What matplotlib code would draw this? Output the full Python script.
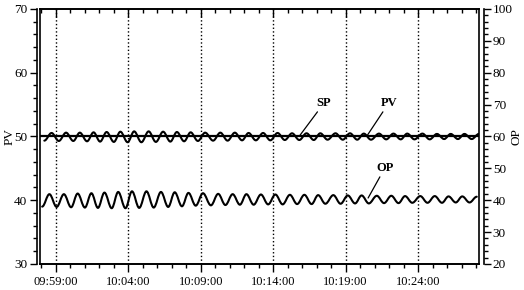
import numpy as np
import pandas as pd
import matplotlib
matplotlib.use("Agg")
import matplotlib.pyplot as plt
import matplotlib.dates as mdates
from matplotlib.path import Path
from matplotlib.patches import PathPatch
from matplotlib.ticker import MultipleLocator

plt.rcParams['font.family'] = ['Liberation Serif', 'DejaVu Serif']

# times of the oscillation extrema, minutes after 09:59:00
trough_min = [-0.95, 0.05, 1.05, 2.0, 2.9, 3.85, 4.8, 5.75, 6.75, 7.75, 8.7,
              9.65, 10.7, 11.7, 12.7, 13.65, 14.65, 15.65, 16.65, 17.65, 18.6,
              19.65, 20.65, 21.6, 22.65, 23.65, 24.6, 25.65, 26.65, 27.6, 28.55]
peak_min = [-0.45, 0.55, 1.5, 2.45, 3.35, 4.3, 5.25, 6.25, 7.25, 8.2, 9.15,
            10.15, 11.2, 12.2, 13.15, 14.15, 15.15, 16.15, 17.15, 18.1, 19.15,
            20.15, 21.1, 22.15, 23.15, 24.1, 25.15, 26.15, 27.1, 28.05, 29.05]
pv_lag = 0.15  # PV extrema lag OP slightly

# OP (right axis) extrema
op_troughs = [38.0, 37.9, 37.8, 37.7, 37.6, 37.5, 37.5, 37.6, 37.7, 37.9, 38.1,
              38.3, 38.4, 38.5, 38.6, 38.6, 38.7, 38.7, 38.8, 38.8, 38.9,
              38.9, 39.0, 39.0, 39.1, 39.1, 39.2, 39.2, 39.2, 39.3, 39.3]
op_peaks = [41.9, 41.9, 42.1, 42.2, 42.4, 42.6, 42.8, 42.8, 42.6, 42.5, 42.3,
            42.2, 42.0, 41.9, 41.9, 41.8, 41.8, 41.7, 41.7, 41.6, 41.6,
            41.5, 41.5, 41.4, 41.4, 41.3, 41.3, 41.3, 41.2, 41.2, 41.1]

# PV (left axis) extrema
pv_troughs = [49.35, 49.3, 49.3, 49.25, 49.2, 49.15, 49.1, 49.1, 49.15, 49.2, 49.25,
              49.3, 49.35, 49.35, 49.4, 49.4, 49.4, 49.45, 49.45, 49.45, 49.5,
              49.5, 49.5, 49.5, 49.55, 49.55, 49.55, 49.55, 49.6, 49.6, 49.6]
pv_peaks = [50.55, 50.6, 50.6, 50.65, 50.7, 50.75, 50.8, 50.8, 50.75, 50.7, 50.65,
            50.6, 50.6, 50.6, 50.55, 50.55, 50.55, 50.5, 50.5, 50.5, 50.5,
            50.5, 50.45, 50.45, 50.45, 50.45, 50.45, 50.4, 50.4, 50.4, 50.4]

sp_value = 50.0
sp_span_min = [-1.0, 29.2]

base = pd.Timestamp('2020-01-01 09:59:00')


def to_num(minutes):
    return mdates.date2num(base + pd.to_timedelta(np.asarray(minutes), unit='min'))


def wave_patch(t, v, transform, lw=1.5):
    # smooth curve through extrema: cubic Bezier with flat tangents at each one
    verts = [(t[0], v[0])]
    codes = [Path.MOVETO]
    for i in range(len(t) - 1):
        dt = t[i + 1] - t[i]
        verts += [(t[i] + 0.3642 * dt, v[i]), (t[i + 1] - 0.3642 * dt, v[i + 1]),
                  (t[i + 1], v[i + 1])]
        codes += [Path.CURVE4] * 3
    return PathPatch(Path(verts, codes), fill=False, lw=lw, color='black',
                     transform=transform, capstyle='round', joinstyle='round')


def interleave(a, b):
    out = []
    for x, y in zip(a, b):
        out += [x, y]
    return out


op_t = to_num(interleave(trough_min, peak_min))
op_v = interleave(op_troughs, op_peaks)
pv_t = to_num(interleave(np.array(trough_min) + pv_lag, np.array(peak_min) + pv_lag))
pv_v = interleave(pv_troughs, pv_peaks)

fig = plt.figure(figsize=(5.24, 2.90), dpi=100)
ax = fig.add_axes([0.0763, 0.0897, 0.8377, 0.8793])
ax2 = ax.twinx()

ax.set_xlim(to_num(-1.1), to_num(29.2))
ax.set_ylim(30, 70)
ax2.set_ylim(20, 100)

# vertical dotted lines at labelled times
ax.xaxis.set_major_locator(mdates.MinuteLocator(byminute=range(4, 60, 5)))
ax.xaxis.set_minor_locator(mdates.MinuteLocator())
ax.xaxis.set_major_formatter(mdates.DateFormatter('%H:%M:%S'))
ax.grid(axis='x', which='major', color='black', linestyle=':', lw=1.0)

ax.plot(to_num(sp_span_min), [sp_value, sp_value], color='black', lw=1.6)
ax.add_patch(wave_patch(pv_t, pv_v, ax.transData))
ax2.add_patch(wave_patch(op_t, op_v, ax2.transData))

ax.yaxis.set_major_locator(MultipleLocator(10))
ax.yaxis.set_minor_locator(MultipleLocator(2))
ax2.yaxis.set_major_locator(MultipleLocator(10))
ax2.yaxis.set_minor_locator(MultipleLocator(2))

ax.tick_params(axis='y', which='major', length=5, width=1, labelsize=9.5, pad=2)
ax.tick_params(axis='y', which='minor', length=3, width=1)
ax.tick_params(axis='x', which='major', length=6, width=1, labelsize=9, pad=3, top=True)
ax.tick_params(axis='x', which='minor', length=3, width=1, top=True)
ax.tick_params(axis='x', which='both', direction='out')
ax2.tick_params(axis='y', which='major', length=5, width=1, labelsize=9.5, pad=1)
ax2.tick_params(axis='y', which='minor', length=3, width=1)

ax.spines['left'].set_position(('outward', 2))
for s in ax.spines.values():
    s.set_linewidth(1.2)
for s in ax2.spines.values():
    s.set_linewidth(1.2)
ax2.spines['right'].set_position(('outward', 4))

# top ticks point inward
for t in ax.xaxis.get_major_ticks() + ax.xaxis.get_minor_ticks():
    t.tick2line.set_marker(matplotlib.lines.TICKDOWN)

ax.set_ylabel('PV', fontsize=9.5)
ax.yaxis.set_label_coords(-0.055, 0.5)
ax2.set_ylabel('OP', fontsize=9.5)
ax2.yaxis.set_label_coords(1.071, 0.5)

# series labels
arrow = dict(arrowstyle='-', color='black', lw=0.9, shrinkA=0, shrinkB=0)
ax.annotate('SP', xy=(to_num(16.85), 50.2), xytext=(to_num(18.0), 54.3),
            fontsize=9, fontweight='bold', ha='left', va='bottom', arrowprops=arrow)
ax.annotate('PV', xy=(to_num(21.5), 50.2), xytext=(to_num(22.4), 54.3),
            fontsize=9, fontweight='bold', ha='left', va='bottom', arrowprops=arrow)
ax.annotate('OP', xy=(to_num(21.55), 40.35), xytext=(to_num(22.1), 44.1),
            fontsize=9, fontweight='bold', ha='left', va='bottom', arrowprops=arrow)

fig.savefig('out.png', dpi=100)
